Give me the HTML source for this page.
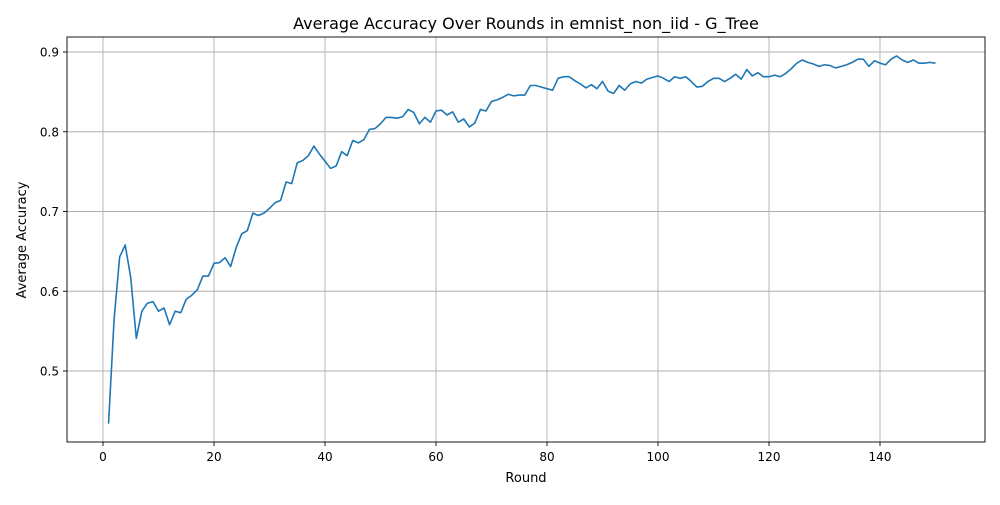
<!DOCTYPE html>
<html><head><meta charset="utf-8"><style>
body{margin:0;background:#fff;font-family:"Liberation Sans","DejaVu Sans",sans-serif}
svg text{font-family:"DejaVu Sans","Liberation Sans",sans-serif;fill:#000}
</style></head><body>
<svg id="chart" width="1000" height="500" xmlns="http://www.w3.org/2000/svg">
<rect width="1000" height="500" fill="#fff"/>
<text x="526" y="29" font-size="16" text-anchor="middle">Average Accuracy Over Rounds in emnist_non_iid - G_Tree</text>
<g id="grid"></g>
<g id="ticks"></g>
<path id="line" fill="none" stroke="#1f77b4" stroke-width="1.6" stroke-linejoin="round"/>
<rect x="67" y="37" width="918" height="405" fill="none" stroke="#000" stroke-width="0.9"/>
<text x="526" y="482" font-size="13" text-anchor="middle">Round</text>
<text transform="translate(26,240) rotate(-90)" font-size="13" text-anchor="middle">Average Accuracy</text>
</svg>
<script>
const accuracy=[.434,.565,.643,.658,.617,.541,.575,.585,.587,.575,.579,.558,.575,.573,.590,.595,.602,.619,.619,.635,.636,.642,.631,.655,.672,.676,.698,.695,.698,.704,.711,.714,.737,.735,.761,.764,.770,.782,.772,.763,.754,.757,.775,.770,.789,.786,.790,.803,.804,.810,.818,.818,.817,.819,.828,.824,.810,.818,.812,.826,.827,.821,.825,.812,.816,.806,.811,.828,.826,.838,.840,.843,.847,.845,.846,.846,.858,.858,.856,.854,.852,.867,.869,.869,.864,.860,.855,.859,.854,.863,.851,.848,.858,.852,.860,.863,.861,.866,.868,.870,.867,.863,.869,.867,.869,.863,.856,.857,.863,.867,.867,.863,.867,.872,.866,.878,.870,.874,.869,.869,.871,.869,.873,.879,.886,.890,.887,.885,.882,.884,.883,.880,.882,.884,.887,.891,.891,.882,.889,.886,.884,.891,.895,.890,.887,.890,.886,.886,.887,.886];
const xTicks=[0,20,40,60,80,100,120,140];
const yTicks=[0.5,0.6,0.7,0.8,0.9];
const X=v=>103+(v-0)*(880-103)/140;
const Y=v=>52+(0.9-v)*797.5;
const NS="http://www.w3.org/2000/svg";
const grid=document.getElementById('grid'),ticks=document.getElementById('ticks');
function mk(t,a,p){const e=document.createElementNS(NS,t);for(const k in a)e.setAttribute(k,a[k]);p.appendChild(e);return e;}
xTicks.forEach(v=>{
 const g=mk('line',{x1:X(v),x2:X(v),y1:37,y2:442,stroke:'#b0b0b0','stroke-width':0.9},grid);
 
 
 mk('line',{x1:X(v),x2:X(v),y1:442,y2:446,stroke:'#000','stroke-width':0.9},ticks);
 const t=mk('text',{x:X(v),y:461,'font-size':12,'text-anchor':'middle'},ticks);t.textContent=v;
 
 
});
yTicks.forEach(v=>{
 const g=mk('line',{x1:67,x2:985,y1:Y(v),y2:Y(v),stroke:'#b0b0b0','stroke-width':0.9},grid);
 
 
 mk('line',{x1:63,x2:67,y1:Y(v),y2:Y(v),stroke:'#000','stroke-width':0.9},ticks);
 const t=mk('text',{x:59,y:Y(v)+4.5,'font-size':12,'text-anchor':'end'},ticks);t.textContent=v.toFixed(1);
 
 
});
document.getElementById('line').setAttribute('d',accuracy.map((v,i)=>(i?'L':'M')+X(i+1).toFixed(2)+','+Y(v).toFixed(2)).join(''));
</script>
</body></html>
